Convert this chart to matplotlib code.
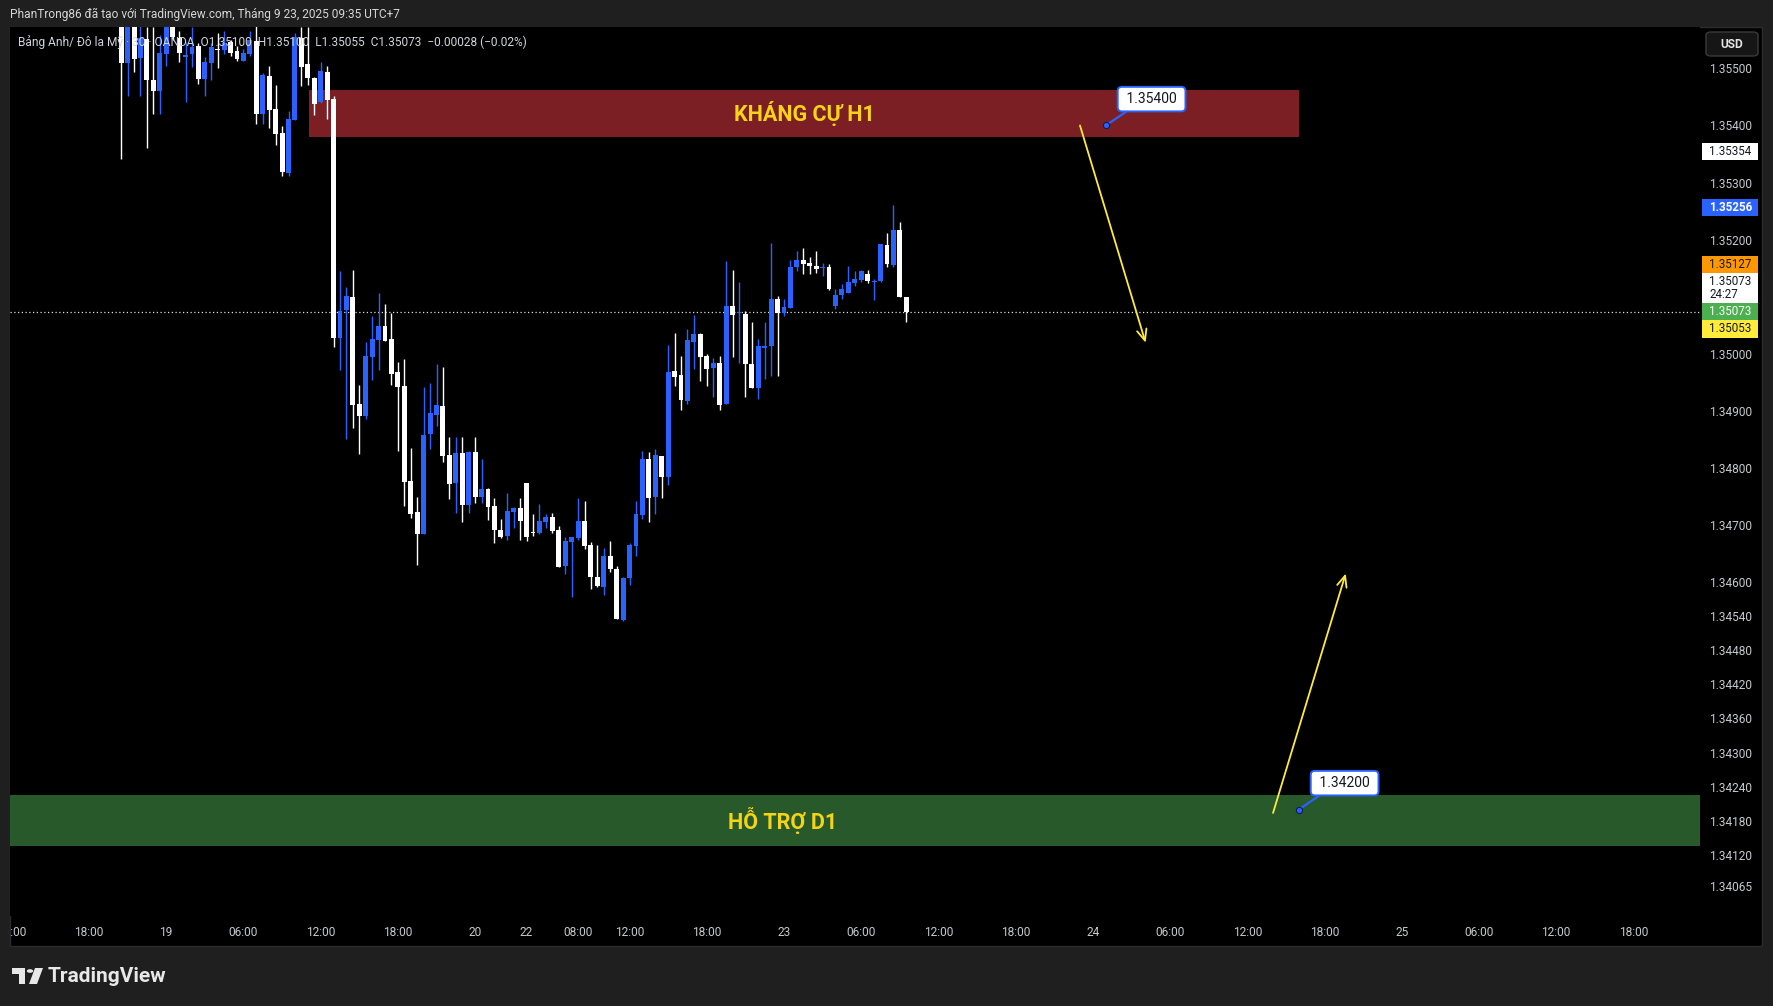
import numpy as np
import matplotlib.pyplot as plt
from matplotlib.patches import Rectangle, FancyBboxPatch, Circle, Polygon
from matplotlib.transforms import blended_transform_factory, Bbox, TransformedBbox

plt.rcParams['font.family'] = ['Roboto', 'DejaVu Sans']

# ---- data -------------------------------------------------------------
# 30-minute bars, index 0 = 18 Sep 12:00 (UTC+7); first visible bar is 17
first_bar = 17
opens = [1.35620, 1.35510, 1.35610, 1.35519, 1.35552, 1.35479, 1.35461, 1.35526, 1.35600, 1.35553,
         1.35521, 1.35525, 1.35539, 1.35482, 1.35510, 1.35534, 1.35532, 1.35546, 1.35531, 1.35514,
         1.35526, 1.35549, 1.35420, 1.35487, 1.35429, 1.35387, 1.35317, 1.35410, 1.35553, 1.35508,
         1.35483, 1.35441, 1.35493, 1.35446, 1.35028, 1.35076, 1.35099, 1.34911, 1.34890, 1.34994,
         1.35024, 1.35048, 1.35025, 1.34968, 1.34943, 1.34776, 1.34722, 1.34683, 1.34859, 1.34892,
         1.34908, 1.34822, 1.34773, 1.34825, 1.34734, 1.34827, 1.34748, 1.34762, 1.34732, 1.34690,
         1.34680, 1.34722, 1.34729, 1.34773, 1.34686, 1.34685, 1.34704, 1.34713, 1.34690, 1.34627,
         1.34669, 1.34676, 1.34706, 1.34664, 1.34608, 1.34590, 1.34645, 1.34622, 1.34532, 1.34606,
         1.34662, 1.34717, 1.34815, 1.34748, 1.34820, 1.34783, 1.34969, 1.34962, 1.34917, 1.35020,
         1.35034, 1.34996, 1.34975, 1.34983, 1.34911, 1.35083, 1.35071, 1.35069, 1.34982, 1.34940,
         1.35009, 1.35013, 1.35096, 1.35071, 1.35080, 1.35151, 1.35164, 1.35159, 1.35154, 1.35150,
         1.35152, 1.35083, 1.35102, 1.35107, 1.35123, 1.35129, 1.35140, 1.35126, 1.35127, 1.35190,
         1.35155, 1.35217, 1.35100]
highs = [1.35660, 1.35640, 1.35640, 1.35590, 1.35572, 1.35572, 1.35559, 1.35620, 1.35620, 1.35565,
         1.35547, 1.35572, 1.35545, 1.35520, 1.35544, 1.35562, 1.35566, 1.35550, 1.35540, 1.35534,
         1.35565, 1.35580, 1.35492, 1.35504, 1.35471, 1.35399, 1.35425, 1.35562, 1.35572, 1.35572,
         1.35485, 1.35511, 1.35504, 1.35452, 1.35145, 1.35117, 1.35146, 1.34945, 1.35020, 1.35066,
         1.35106, 1.35087, 1.35071, 1.34985, 1.34990, 1.34834, 1.34748, 1.34941, 1.34948, 1.34982,
         1.34976, 1.34854, 1.34854, 1.34854, 1.34829, 1.34854, 1.34815, 1.34764, 1.34746, 1.34709,
         1.34755, 1.34731, 1.34746, 1.34773, 1.34718, 1.34736, 1.34718, 1.34720, 1.34697, 1.34678,
         1.34678, 1.34746, 1.34741, 1.34669, 1.34664, 1.34659, 1.34671, 1.34627, 1.34608, 1.34668,
         1.34741, 1.34829, 1.34827, 1.34832, 1.34820, 1.35015, 1.35036, 1.34996, 1.35043, 1.35068,
         1.35036, 1.34999, 1.34992, 1.34996, 1.35162, 1.35146, 1.35125, 1.35075, 1.35055, 1.35025,
         1.35055, 1.35194, 1.35101, 1.35096, 1.35164, 1.35180, 1.35185, 1.35170, 1.35180, 1.35159,
         1.35157, 1.35114, 1.35122, 1.35154, 1.35144, 1.35146, 1.35146, 1.35130, 1.35192, 1.35211,
         1.35260, 1.35230, 1.35100]
lows = [1.35342, 1.35452, 1.35493, 1.35451, 1.35360, 1.35420, 1.35420, 1.35505, 1.35550, 1.35512,
        1.35441, 1.35503, 1.35473, 1.35452, 1.35479, 1.35500, 1.35526, 1.35522, 1.35513, 1.35513,
        1.35522, 1.35403, 1.35403, 1.35396, 1.35365, 1.35312, 1.35312, 1.35410, 1.35470, 1.35471,
        1.35418, 1.35440, 1.35411, 1.35012, 1.34971, 1.34850, 1.34870, 1.34824, 1.34885, 1.34954,
        1.34971, 1.35022, 1.34945, 1.34829, 1.34732, 1.34711, 1.34629, 1.34683, 1.34832, 1.34873,
        1.34810, 1.34745, 1.34720, 1.34704, 1.34720, 1.34738, 1.34738, 1.34708, 1.34667, 1.34676,
        1.34673, 1.34694, 1.34673, 1.34671, 1.34680, 1.34683, 1.34694, 1.34685, 1.34625, 1.34613,
        1.34573, 1.34673, 1.34657, 1.34587, 1.34590, 1.34576, 1.34617, 1.34534, 1.34530, 1.34594,
        1.34645, 1.34710, 1.34704, 1.34718, 1.34746, 1.34769, 1.34943, 1.34901, 1.34911, 1.34973,
        1.34952, 1.34943, 1.34924, 1.34901, 1.34911, 1.34994, 1.34984, 1.34923, 1.34940, 1.34921,
        1.34955, 1.34961, 1.34961, 1.35066, 1.35079, 1.35144, 1.35140, 1.35140, 1.35142, 1.35136,
        1.35112, 1.35078, 1.35096, 1.35107, 1.35118, 1.35125, 1.35123, 1.35094, 1.35125, 1.35152,
        1.35151, 1.35100, 1.35055]
closes = [1.35510, 1.35600, 1.35517, 1.35553, 1.35479, 1.35461, 1.35527, 1.35600, 1.35556, 1.35528,
          1.35523, 1.35538, 1.35482, 1.35511, 1.35538, 1.35533, 1.35544, 1.35528, 1.35516, 1.35527,
          1.35550, 1.35420, 1.35489, 1.35427, 1.35385, 1.35318, 1.35411, 1.35556, 1.35503, 1.35483,
          1.35438, 1.35496, 1.35445, 1.35028, 1.35075, 1.35101, 1.34910, 1.34890, 1.34996, 1.35025,
          1.35048, 1.35022, 1.34964, 1.34941, 1.34775, 1.34718, 1.34683, 1.34857, 1.34896, 1.34910,
          1.34820, 1.34771, 1.34825, 1.34734, 1.34827, 1.34748, 1.34762, 1.34731, 1.34690, 1.34678,
          1.34724, 1.34729, 1.34706, 1.34678, 1.34685, 1.34706, 1.34713, 1.34689, 1.34625, 1.34671,
          1.34678, 1.34706, 1.34662, 1.34608, 1.34592, 1.34645, 1.34622, 1.34534, 1.34606, 1.34664,
          1.34718, 1.34815, 1.34746, 1.34822, 1.34783, 1.34968, 1.34959, 1.34918, 1.35024, 1.35034,
          1.34994, 1.34973, 1.34983, 1.34910, 1.35083, 1.35068, 1.35073, 1.34982, 1.34940, 1.35013,
          1.35014, 1.35096, 1.35071, 1.35082, 1.35152, 1.35164, 1.35157, 1.35154, 1.35149, 1.35152,
          1.35114, 1.35102, 1.35113, 1.35125, 1.35130, 1.35144, 1.35127, 1.35128, 1.35192, 1.35157,
          1.35217, 1.35100, 1.35073]

# time axis (bar index -> label)
time_ticks = [0, 12, 24, 36, 48, 60, 72, 80, 88, 96, 108, 120, 132, 144, 156, 168,
              180, 192, 204, 216, 228, 240, 252]
time_labels = ['12:00', '18:00', '19', '06:00', '12:00', '18:00', '20', '22', '08:00', '12:00',
               '18:00', '23', '06:00', '12:00', '18:00', '24', '06:00', '12:00', '18:00', '25',
               '06:00', '12:00', '18:00']

price_ticks = [1.35500, 1.35400, 1.35300, 1.35200, 1.35000, 1.34900, 1.34800, 1.34700,
               1.34600, 1.34540, 1.34480, 1.34420, 1.34360, 1.34300, 1.34240, 1.34180,
               1.34120, 1.34065]

last_price = 1.35073
bar_timer = '24:27'
# (value, face colour, text colour) for the single tags on the price scale
top_tags = [(1.35354, '#ffffff', '#131722'), (1.35256, '#2962ff', '#ffffff')]
stack_above = [(1.35127, '#ff9800', '#131722')]
stack_below = [(1.35053, '#ffeb3b', '#131722')]

# zones: (x start, x end, price low, price high)
resist_zone = (46.2, 200.0, 1.35380, 1.35462)
support_zone = (-23.0, 262.5, 1.34136, 1.34226)
resist_label = 'KHÁNG CỰ H1'
support_label = 'HỖ TRỢ D1'

callouts = [(170.0, 1.35400), (200.0, 1.34200)]
arrow_down = ((166.0, 1.35400), (176.2, 1.35019))
arrow_up = ((196.0, 1.34194), (207.3, 1.34614))

header = 'PhanTrong86 đã tạo với TradingView.com, Tháng 9 23, 2025 09:35 UTC+7'
legend = ('Bảng Anh/ Đô la Mỹ · 30 · OANDA  O1.35100  H1.35100  L1.35055  '
          'C1.35073  −0.00028 (−0.02%)')

# ---- figure -----------------------------------------------------------
W, H = 1773, 1006
BG = '#1f1f1f'
BLUE = '#2962ff'
YELLOW = '#ffeb3b'
AXIS_TXT = '#c6c8ce'


def fx(x):
    return x / W


def fy(y):
    return 1 - y / H


fig = plt.figure(figsize=(W / 100, H / 100), dpi=100, facecolor=BG)

panel = Rectangle((fx(10), fy(946)), fx(1762) - fx(10), fy(27) - fy(946),
                  transform=fig.transFigure, facecolor='black', edgecolor='#2c2c2c',
                  lw=1, zorder=-10)
fig.patches.append(panel)

ax = fig.add_axes([fx(10), fy(916), fx(1700) - fx(10), fy(27) - fy(916)])
ax.set_facecolor('black')
for s in ax.spines.values():
    s.set_visible(False)

x = np.arange(first_bar, first_bar + len(opens))
o = np.array(opens)
h = np.array(highs)
l = np.array(lows)
c = np.array(closes)
up = c >= o
cols = np.where(up, BLUE, '#ffffff')
body_lo = np.minimum(o, c)
body_h = np.maximum(np.abs(c - o), 0.00002)

ax.vlines(x, l, h, colors=cols, lw=1.0, zorder=3)
ax.bar(x, body_h, bottom=body_lo, width=0.76, color=cols, lw=0, zorder=4)

# zones
rx0, rx1, ry0, ry1 = resist_zone
ax.add_patch(Rectangle((rx0, ry0), rx1 - rx0, ry1 - ry0, facecolor='#7b1f24',
                       edgecolor='none', zorder=2))
ax.text((rx0 + rx1) / 2, (ry0 + ry1) / 2, resist_label, color='#f5d316', fontsize=15.5,
        fontweight='bold', ha='center', va='center', zorder=5)
sx0, sx1, sy0, sy1 = support_zone
ax.add_patch(Rectangle((sx0, sy0), sx1 - sx0, sy1 - sy0, facecolor='#27592b',
                       edgecolor='none', zorder=2))
ax.text((sx0 + sx1) / 2, (sy0 + sy1) / 2, support_label, color='#f5d316', fontsize=15.5,
        fontweight='bold', ha='center', va='center', zorder=5)

# current price line
ax.axhline(last_price, color='#e0e0e0', lw=0.9, ls=(0, (1, 2)), zorder=2)

# yellow arrows
for start, end in (arrow_down, arrow_up):
    ax.annotate('', xy=end, xytext=start,
                arrowprops=dict(arrowstyle='->,head_length=0.8,head_width=0.35',
                                color=YELLOW, lw=1.3, shrinkA=0, shrinkB=0), zorder=6)

# price callouts
for cx, cy in callouts:
    ax.annotate(f' {cy:.5f} ', xy=(cx, cy), xytext=(33, 19), textcoords='offset points',
                ha='center', va='center', fontsize=10, color='#131722', zorder=7,
                bbox=dict(boxstyle='round,pad=0.38,rounding_size=0.3', fc='white',
                          ec=BLUE, lw=1.4),
                arrowprops=dict(arrowstyle='-', color=BLUE, lw=1.6, shrinkA=0, shrinkB=0,
                                relpos=(0.2, 0.0)))
    ax.plot(cx, cy, 'o', ms=4.5, mfc=BLUE, mec='#0b1d5c', mew=0.8, zorder=8)

ax.set_xlim(-0.28, 262.35)
ax.set_ylim(1.340132, 1.355728)

ax.set_xticks(time_ticks)
ax.set_xticklabels(time_labels)
ax.yaxis.tick_right()
ax.set_yticks(price_ticks)
ax.set_yticklabels([f'{p:.5f}' for p in price_ticks])
ax.tick_params(axis='both', length=0, colors=AXIS_TXT, labelsize=8.6)
ax.tick_params(axis='x', pad=7.2)
ax.tick_params(axis='y', pad=6.8)

clip = TransformedBbox(Bbox([[fx(10), 0], [fx(1762), 1]]), fig.transFigure)
for lab in ax.get_xticklabels():
    lab.set_clip_box(clip)
    lab.set_clip_on(True)

# price scale tags
tr = blended_transform_factory(ax.transAxes, ax.transData)
tag_x0, tag_x1 = 1.0012, 1.0343
txt_x = 1.0055
tag_h = 0.0003
tag_h2 = 0.00053


def tag(center, height, fc, tc, text, bold=False):
    ax.add_patch(Rectangle((tag_x0, center - height / 2), tag_x1 - tag_x0, height,
                           transform=tr, facecolor=fc, edgecolor='none', clip_on=False,
                           zorder=9))
    ax.text(txt_x, center, text, transform=tr, ha='left', va='center', fontsize=8.4,
            color=tc, fontweight='bold' if bold else 'normal', clip_on=False, zorder=10,
            linespacing=1.0)


for val, fc, tc in top_tags:
    tag(val, tag_h, fc, tc, f'{val:.5f}', bold=(fc == BLUE))

tag(last_price, tag_h, '#4caf50', '#ffffff', f'{last_price:.5f}')
timer_c = last_price + tag_h / 2 + tag_h2 / 2
tag(timer_c, tag_h2, '#ffffff', '#131722', f'{last_price:.5f}\n{bar_timer}')
yc = timer_c + tag_h2 / 2
for val, fc, tc in stack_above:
    tag(yc + tag_h / 2, tag_h, fc, tc, f'{val:.5f}')
    yc += tag_h
yc = last_price - tag_h / 2
for val, fc, tc in stack_below:
    tag(yc - tag_h / 2, tag_h, fc, tc, f'{val:.5f}')
    yc -= tag_h

# USD button
fig.patches.append(FancyBboxPatch((fx(1706), fy(56)), fx(1758) - fx(1706), fy(32) - fy(56),
                                  boxstyle='round,pad=0,rounding_size=0.003',
                                  transform=fig.transFigure, fc='#161616', ec='#3a3a3a',
                                  lw=1, zorder=5))
fig.text(fx(1732), fy(44), 'USD', color='#e6e6e6', fontsize=8.6, fontweight='bold',
         ha='center', va='center', zorder=6)

# header / legend
fig.text(fx(10), fy(14), header, color='#d6d6d6', fontsize=8.6, ha='left', va='center')
fig.text(fx(18), fy(42), legend, color='#d1d4dc', fontsize=8.6, ha='left', va='center',
         zorder=6)

# TradingView logo
logo_c = '#e8e8e8'
fig.patches.append(Polygon([(fx(12), fy(968)), (fx(25), fy(968)), (fx(25), fy(984)),
                            (fx(19), fy(984)), (fx(19), fy(974)), (fx(12), fy(974))],
                           closed=True, transform=fig.transFigure, fc=logo_c, ec='none'))
fig.patches.append(Circle((fx(30), fy(971)), 3.2 / W, transform=fig.transFigure,
                          fc=logo_c, ec='none'))
fig.patches.append(Polygon([(fx(35), fy(968)), (fx(43), fy(968)), (fx(37), fy(984)),
                            (fx(29), fy(984))],
                           closed=True, transform=fig.transFigure, fc=logo_c, ec='none'))
fig.text(fx(48), fy(976), 'TradingView', color=logo_c, fontsize=15, fontweight='bold',
         ha='left', va='center')

fig.savefig('out.png', dpi=100, facecolor=BG)
